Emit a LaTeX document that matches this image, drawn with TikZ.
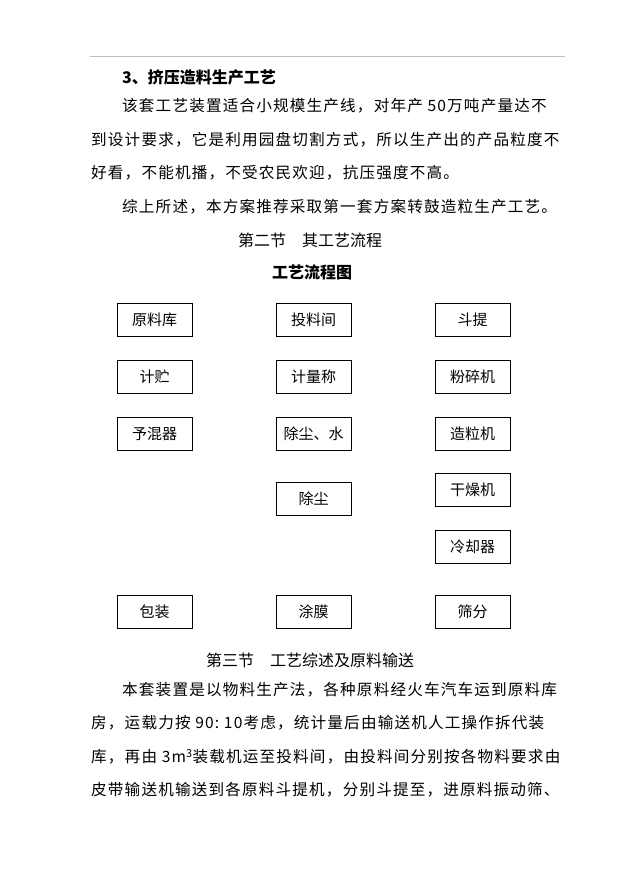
\documentclass[tikz,border=0pt]{standalone}
\usepackage{fontspec}
\setmainfont{Noto Sans CJK SC}
\begin{document}
\begin{tikzpicture}[x=1pt,y=-1pt,
  txt/.style={anchor=west,inner sep=0pt,font=\fontsize{15.6}{16}\selectfont\addfontfeature{LetterSpace=7.5}},
  hd/.style={inner sep=0pt,font=\fontsize{16}{16}\selectfont\bfseries},
  bx/.style={draw,line width=0.8pt,minimum width=75pt,minimum height=33pt,inner sep=0pt,font=\fontsize{15}{15}\selectfont}]
\useasboundingbox (0,0) rectangle (621,877);
\fill[white] (0,0) rectangle (621,877);
\coordinate (la) at (90,56); \coordinate (lb) at (565,56);
\draw[gray!50] (la) -- (lb);
\node[hd,anchor=west] (h1) at (122,77) {3、挤压造料生产工艺};
\node[txt] (p1) at (122,106) {该套工艺装置适合小规模生产线，对年产 50万吨产量达不};
\node[txt] (p2) at (91,140) {到设计要求，它是利用园盘切割方式，所以生产出的产品粒度不};
\node[txt] (p3) at (91,173) {好看，不能机播，不受农民欢迎，抗压强度不高。};
\node[txt] (p4) at (122,207) {综上所述，本方案推荐采取第一套方案转鼓造粒生产工艺。};
\node[inner sep=0pt,font=\fontsize{16}{16}\selectfont] (h2) at (310,240) {第二节\quad 其工艺流程};
\node[hd] (h3) at (312,272) {工艺流程图};
\node[bx] (a1) at (154.5,319.5) {原料库};
\node[bx] (a2) at (154.5,376.5) {计贮};
\node[bx] (a3) at (154.5,433.5) {予混器};
\node[bx] (a4) at (154.5,611.5) {包装};
\node[bx] (b1) at (313.5,319.5) {投料间};
\node[bx] (b2) at (313.5,376.5) {计量称};
\node[bx] (b3) at (313.5,433.5) {除尘、水};
\node[bx] (b4) at (313.5,498.5) {除尘};
\node[bx] (b5) at (313.5,611.5) {涂膜};
\node[bx] (c1) at (472.5,319.5) {斗提};
\node[bx] (c2) at (472.5,376.5) {粉碎机};
\node[bx] (c3) at (472.5,433.5) {造粒机};
\node[bx] (c4) at (472.5,489.5) {干燥机};
\node[bx] (c5) at (472.5,546.5) {冷却器};
\node[bx] (c6) at (472.5,611.5) {筛分};
\node[inner sep=0pt,font=\fontsize{16}{16}\selectfont] (h4) at (310,660) {第三节\quad 工艺综述及原料输送};
\node[txt] (q1) at (122,690) {本套装置是以物料生产法，各种原料经火车汽车运到原料库};
\node[txt] (q2) at (91,723) {房，运载力按 90:\ 10考虑，统计量后由输送机人工操作拆代装};
\node[txt] (q3) at (91,757) {库，再由 3m\textsuperscript{3}装载机运至投料间，由投料间分别按各物料要求由};
\node[txt] (q4) at (91,790) {皮带输送机输送到各原料斗提机，分别斗提至，进原料振动筛、};
\end{tikzpicture}
\end{document}
